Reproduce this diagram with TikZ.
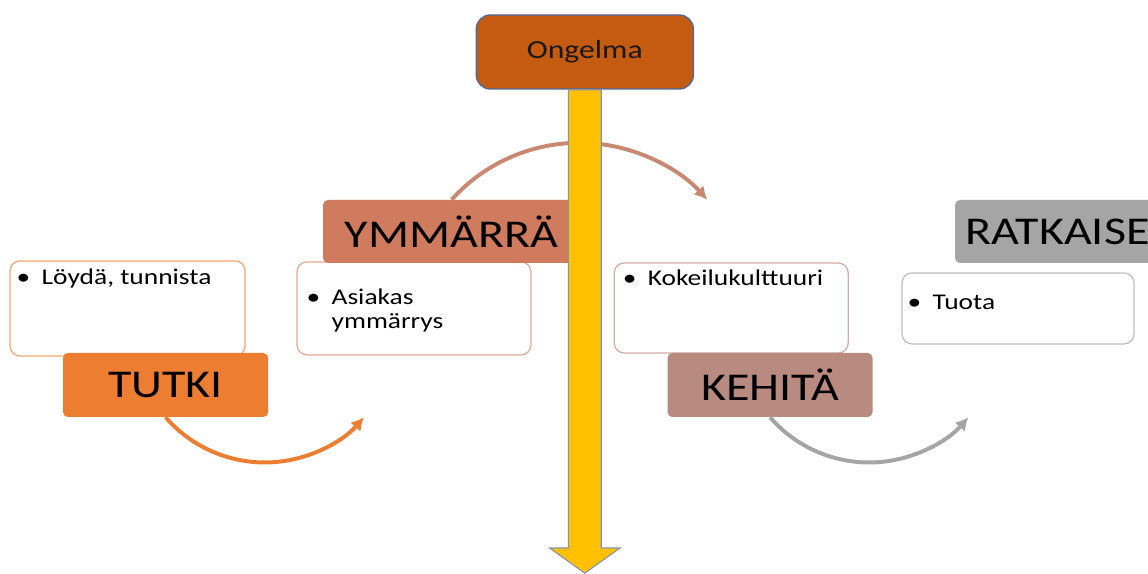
\documentclass[tikz,border=0pt]{standalone}
\usepackage{fontspec}
\setmainfont{Carlito}[FakeStretch=1.22]
\usepackage{xcolor}
\usepackage{tikz}
\usetikzlibrary{calc}
\usetikzlibrary{positioning}
\usetikzlibrary{arrows.meta}

\definecolor{ongfill}{HTML}{C55A11}
\definecolor{ongline}{HTML}{4F6A94}
\definecolor{yellowarrow}{HTML}{FFC000}
\definecolor{yellowline}{HTML}{8497B0}
\definecolor{tutkiC}{HTML}{ED7D31}
\definecolor{ymmC}{HTML}{D07A5E}
\definecolor{kehC}{HTML}{B98A80}
\definecolor{ratC}{HTML}{A5A5A5}
\definecolor{toparc}{HTML}{C98872}
\definecolor{loydaline}{HTML}{F3A774}
\definecolor{asiakasline}{HTML}{E6AA96}
\definecolor{kokeiluline}{HTML}{D4ACA6}
\definecolor{tuotaline}{HTML}{BFBFBF}

\newcommand\bul[1]{\makebox[6.25mm][l]{\textbullet}\begin{tabular}[t]{@{}l@{}}#1\end{tabular}}

\tikzstyle{stage}    = [rectangle, rounded corners=1.2mm, minimum width=5.125cm, minimum height=1.6cm, font=\fontsize{28}{30}\selectfont, text=black]
\tikzstyle{notebox}  = [rectangle, draw, fill=white, rounded corners=2.5mm, line width=0.9pt, minimum width=5.85cm]
\tikzstyle{notetext} = [anchor=base west, inner sep=0pt, font=\fontsize{16}{17}\selectfont, text=black]
\tikzstyle{turn}     = [draw, line width=2.8pt, -{Latex[length=3.2mm,width=3.4mm]}]
\tikzstyle{bigarrow} = [draw=yellowline, fill=yellowarrow, line width=0.8pt, line join=miter]

\begin{document}
\begin{tikzpicture}
	\clip (0,0) rectangle (28.7,14.35);
	\fill [white] (0,0) rectangle (28.7,14.35);
	% notes under the stages
	\node [notebox, draw=loydaline, minimum width=5.875cm, minimum height=2.375cm] (loyda) at (3.19,6.64) {};
	\node [notebox, draw=asiakasline, minimum height=2.325cm] (asiakas) at (10.35,6.64) {};
	\node [notebox, draw=kokeiluline, minimum height=2.25cm] (kokeilu) at (18.28,6.65) {};
	\node [notebox, draw=tuotaline, minimum width=5.8cm, minimum height=1.775cm] (tuota) at (25.45,6.64) {};
	\node [notetext] (loyda-t) at ($(loyda.north west)+(0.175,-0.6)$) {\bul{Löydä, tunnista}};
	\node [notetext] (asiakas-t) at ($(asiakas.north west)+(0.25,-1.075)$) {\bul{Asiakas\\ymmärrys}};
	\node [notetext] (kokeilu-t) at ($(kokeilu.north west)+(0.225,-0.575)$) {\bul{Kokeilukulttuuri}};
	\node [notetext] (tuota-t) at ($(tuota.north west)+(0.15,-0.925)$) {\bul{Tuota}};
	% stages
	\node [stage, fill=tutkiC] (tutki) at (4.14,4.725) {TUTKI};
	\node [stage, fill=kehC, right of=tutki, node distance=15.11cm] (kehita) {KEHITÄ};
	\node [stage, fill=ymmC, minimum width=6.425cm, minimum height=1.575cm] (ymm) at (11.29,8.5625) {YMMÄRRÄ};
	\node [stage, fill=ratC, minimum height=1.575cm, right of=ymm, node distance=15.15cm] (ratkaise) {RATKAISE};
	% turning arrows
	\path [turn, draw=tutkiC] (tutki.south) arc[start angle=221, end angle=319, radius=3.285];
	\path [turn, draw=toparc] (ymm.north) arc[start angle=138, end angle=42, radius=4.3];
	\path [turn, draw=ratC] (kehita.south) arc[start angle=221, end angle=319, radius=3.285];
	% problem and the big arrow
	\node [rectangle, draw=ongline, fill=ongfill, rounded corners=3.5mm, line width=1pt, minimum width=5.425cm, minimum height=1.85cm, font=\fontsize{18.5}{20}\selectfont, text=black!90] (ong) at (14.62,13.05) {Ongelma};
	\coordinate (tip) at (14.62,0.02);
	\draw [bigarrow] ($(ong.south)+(-0.41,0)$) -- ($(tip)+(-0.41,0.63)$) -- ($(tip)+(-0.88,0.63)$) -- (tip)
		-- ($(tip)+(0.88,0.63)$) -- ($(tip)+(0.41,0.63)$) -- ($(ong.south)+(0.41,0)$) -- cycle;
\end{tikzpicture}
\end{document}
